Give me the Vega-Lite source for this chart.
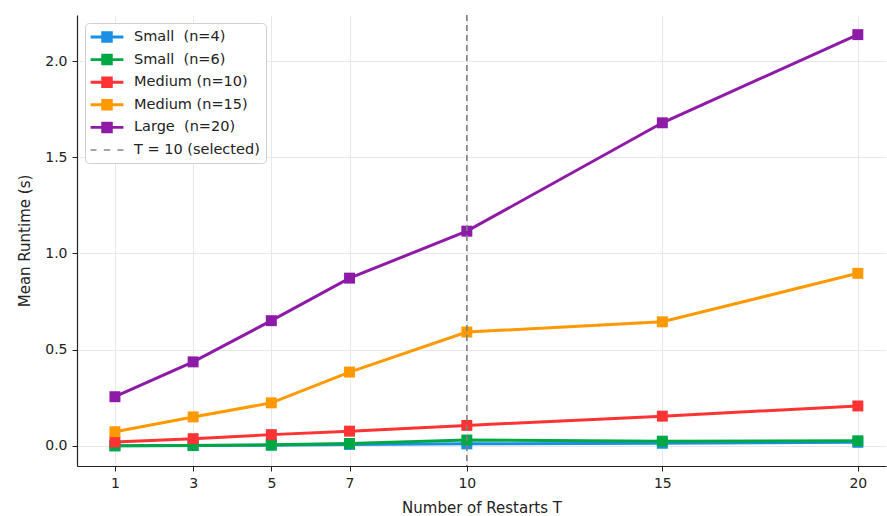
{
  "$schema": "https://vega.github.io/schema/vega-lite/v6.json",
  "autosize": "none",
  "width": 809,
  "height": 451,
  "padding": {"left": 77, "top": 15, "right": 1, "bottom": 50},
  "background": "white",
  "config": {
    "font": "DejaVu Sans",
    "view": {"stroke": null},
    "axis": {
      "domainColor": "#222",
      "domainWidth": 1.2,
      "tickColor": "#222",
      "tickSize": 5,
      "tickWidth": 1,
      "gridColor": "#e8e8e8",
      "gridWidth": 1,
      "labelFontSize": 14,
      "labelColor": "#222",
      "titleFontSize": 15,
      "titleFontWeight": "normal",
      "titleColor": "#222",
      "labelPadding": 5
    }
  },
  "datasets": {
    "runs": [
      {"series": "Small\u00a0 (n=4)", "T": 1, "runtime": 0.001},
      {"series": "Small\u00a0 (n=4)", "T": 3, "runtime": 0.002},
      {"series": "Small\u00a0 (n=4)", "T": 5, "runtime": 0.004},
      {"series": "Small\u00a0 (n=4)", "T": 7, "runtime": 0.008},
      {"series": "Small\u00a0 (n=4)", "T": 10, "runtime": 0.011},
      {"series": "Small\u00a0 (n=4)", "T": 15, "runtime": 0.014},
      {"series": "Small\u00a0 (n=4)", "T": 20, "runtime": 0.019},
      {"series": "Small\u00a0 (n=6)", "T": 1, "runtime": 0.001},
      {"series": "Small\u00a0 (n=6)", "T": 3, "runtime": 0.003},
      {"series": "Small\u00a0 (n=6)", "T": 5, "runtime": 0.006},
      {"series": "Small\u00a0 (n=6)", "T": 7, "runtime": 0.013},
      {"series": "Small\u00a0 (n=6)", "T": 10, "runtime": 0.031},
      {"series": "Small\u00a0 (n=6)", "T": 15, "runtime": 0.025},
      {"series": "Small\u00a0 (n=6)", "T": 20, "runtime": 0.027},
      {"series": "Medium (n=10)", "T": 1, "runtime": 0.021},
      {"series": "Medium (n=10)", "T": 3, "runtime": 0.038},
      {"series": "Medium (n=10)", "T": 5, "runtime": 0.059},
      {"series": "Medium (n=10)", "T": 7, "runtime": 0.077},
      {"series": "Medium (n=10)", "T": 10, "runtime": 0.107},
      {"series": "Medium (n=10)", "T": 15, "runtime": 0.155},
      {"series": "Medium (n=10)", "T": 20, "runtime": 0.208},
      {"series": "Medium (n=15)", "T": 1, "runtime": 0.074},
      {"series": "Medium (n=15)", "T": 3, "runtime": 0.151},
      {"series": "Medium (n=15)", "T": 5, "runtime": 0.224},
      {"series": "Medium (n=15)", "T": 7, "runtime": 0.384},
      {"series": "Medium (n=15)", "T": 10, "runtime": 0.592},
      {"series": "Medium (n=15)", "T": 15, "runtime": 0.645},
      {"series": "Medium (n=15)", "T": 20, "runtime": 0.897},
      {"series": "Large\u00a0 (n=20)", "T": 1, "runtime": 0.256},
      {"series": "Large\u00a0 (n=20)", "T": 3, "runtime": 0.437},
      {"series": "Large\u00a0 (n=20)", "T": 5, "runtime": 0.651},
      {"series": "Large\u00a0 (n=20)", "T": 7, "runtime": 0.872},
      {"series": "Large\u00a0 (n=20)", "T": 10, "runtime": 1.116},
      {"series": "Large\u00a0 (n=20)", "T": 15, "runtime": 1.679},
      {"series": "Large\u00a0 (n=20)", "T": 20, "runtime": 2.137}
    ],
    "selected": [{"T": 10}]
  },
  "layer": [
    {
      "data": {"name": "runs"},
      "mark": {"type": "line", "strokeWidth": 3, "clip": true},
      "encoding": {
        "x": {"field": "T", "type": "quantitative",
          "scale": {"domain": [0.03, 20.72], "nice": false, "zero": false},
          "axis": {"values": [1, 3, 5, 7, 10, 15, 20], "title": "Number of Restarts T", "titlePadding": 10, "labelFlush": false}},
        "y": {"field": "runtime", "type": "quantitative",
          "scale": {"domain": [-0.104, 2.239], "nice": false, "zero": false},
          "axis": {"values": [0, 0.5, 1, 1.5, 2], "format": ".1f", "title": "Mean Runtime (s)", "titlePadding": 12}},
        "color": {"field": "series", "type": "nominal",
          "scale": {
            "domain": ["Small\u00a0 (n=4)", "Small\u00a0 (n=6)", "Medium (n=10)", "Medium (n=15)", "Large\u00a0 (n=20)", "T = 10 (selected)"],
            "range": ["#1a8fe6", "#00a844", "#ff3333", "#ff9900", "#8e1aa8", "#888888"]
          }},
        "detail": {"field": "series"}
      }
    },
    {
      "data": {"name": "runs"},
      "mark": {"type": "point", "shape": "square", "filled": true, "opacity": 1, "size": 120},
      "encoding": {
        "x": {"field": "T", "type": "quantitative"},
        "y": {"field": "runtime", "type": "quantitative"},
        "color": {"field": "series", "type": "nominal",
          "legend": {
            "title": null,
            "orient": "top-left",
            "offset": 8,
            "labelFontSize": 14.5,
            "labelColor": "#222",
            "labelOffset": 19,
            "symbolSize": 256,
            "symbolOffset": 8,
            "symbolStrokeWidth": 0,
            "symbolOpacity": 1,
            "rowPadding": 7.6,
            "padding": 6,
            "strokeColor": "#d0d0d0",
            "fillColor": "white",
            "cornerRadius": 4,
            "encode": {
              "symbols": {
                "update": {
                  "shape": {"signal": "datum.value === 'T = 10 (selected)' ? 'M-2.05,-0.1H-1.3V0.1H-2.05Z M-0.4,-0.1H0.4V0.1H-0.4Z M1.3,-0.1H2.05V0.1H1.3Z' : 'M-2.05,-0.18H2.05V0.18H-2.05Z M-0.72,-0.72H0.72V0.72H-0.72Z'"}
                }
              }
            }
          }}
      }
    },
    {
      "data": {"name": "selected"},
      "mark": {"type": "rule", "color": "#808080", "strokeWidth": 1.6, "strokeDash": [6, 4]},
      "encoding": {
        "x": {"field": "T", "type": "quantitative"}
      }
    }
  ]
}
